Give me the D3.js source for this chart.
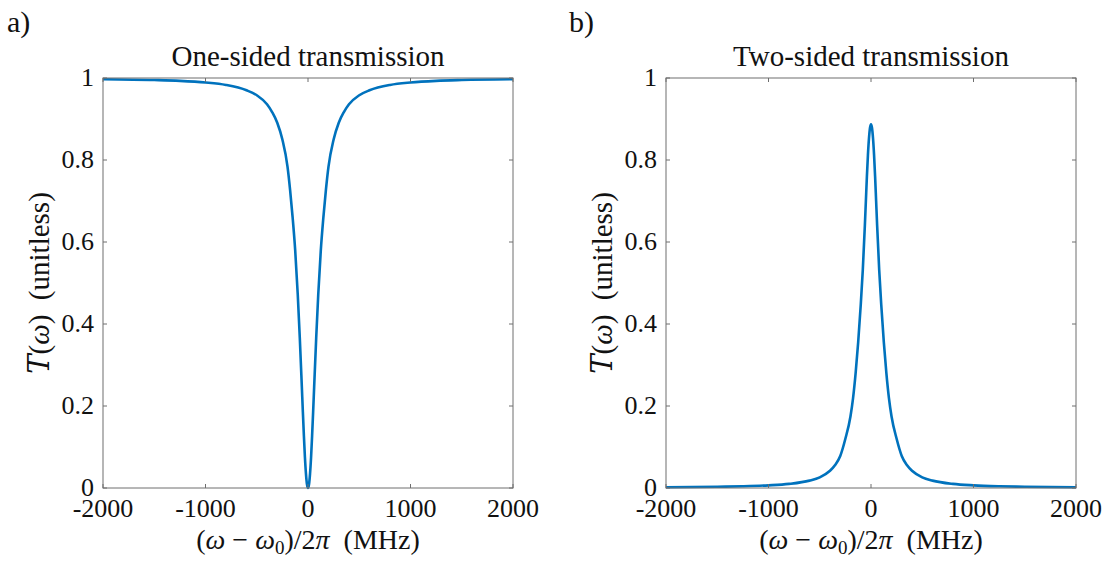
<!DOCTYPE html>
<html>
<head>
<meta charset="utf-8">
<script src="https://cdn.jsdelivr.net/npm/d3@7"></script>
<style>
  body { margin: 0; background: #fff; }
  svg { display: block; }
  text { font-family: "Liberation Serif", "DejaVu Serif", serif; fill: #111; }
</style>
</head>
<body>
<div id="chart"></div>
<script>
// detuning (MHz)
const detuning = [-2000, -1500, -1250, -1000, -800, -600, -500, -400, -350, -300, -250, -200, -175, -150, -125, -100, -80, -60, -50, -40, -30, -20, -10,
  0, 10, 20, 30, 40, 50, 60, 80, 100, 125, 150, 175, 200, 250, 300, 350, 400, 500, 600, 800, 1000, 1250, 1500, 2000]

// a) one-sided transmission
const oneSided = [0.997, 0.995, 0.993, 0.989, 0.983, 0.970, 0.958, 0.936, 0.917, 0.891, 0.850, 0.784, 0.728, 0.660, 0.580, 0.472, 0.366, 0.246, 0.185, 0.127, 0.075, 0.035, 0.009,
  0.0, 0.009, 0.035, 0.075, 0.127, 0.185, 0.246, 0.366, 0.472, 0.580, 0.660, 0.728, 0.784, 0.850, 0.891, 0.917, 0.936, 0.958, 0.970, 0.983, 0.989, 0.993, 0.995, 0.997]

// b) two-sided transmission
const twoSided = [0.0017, 0.0030, 0.0042, 0.0065, 0.010, 0.018, 0.026, 0.042, 0.056, 0.078, 0.120, 0.175, 0.219, 0.280, 0.356, 0.447, 0.532, 0.640, 0.700, 0.760, 0.812, 0.852, 0.878,
  0.887, 0.878, 0.852, 0.812, 0.760, 0.700, 0.640, 0.532, 0.447, 0.356, 0.280, 0.219, 0.175, 0.120, 0.078, 0.056, 0.042, 0.026, 0.018, 0.010, 0.0065, 0.0042, 0.0030, 0.0017]

const xTicks = [-2000, -1000, 0, 1000, 2000]
const yTicks = [0, 0.2, 0.4, 0.6, 0.8, 1]
const yTickLabels = ["0", "0.2", "0.4", "0.6", "0.8", "1"]

const panels = [
  { tag: "a)", title: "One-sided transmission", values: oneSided, left: 103, tagX: 7 },
  { tag: "b)", title: "Two-sided transmission", values: twoSided, left: 666, tagX: 569 },
]

const W = 1102, H = 563
const plotTop = 78, plotW = 410, plotH = 410
const lineColor = "#0072bd"
const axisColor = "#6e6e6e"

const svg = d3.select("#chart").append("svg")
  .attr("width", W)
  .attr("height", H)

panels.forEach(p => {
  const x = d3.scaleLinear().domain([-2000, 2000]).range([0, plotW])
  const y = d3.scaleLinear().domain([0, 1]).range([plotH, 0])

  const g = svg.append("g").attr("transform", `translate(${p.left},${plotTop})`)

  // panel tag
  svg.append("text")
    .attr("x", p.tagX).attr("y", 32)
    .style("font-size", "30px")
    .text(p.tag)

  // title
  g.append("text")
    .attr("x", plotW / 2).attr("y", -12)
    .attr("text-anchor", "middle")
    .style("font-size", "29px")
    .text(p.title)

  // curve
  const line = d3.line()
    .x((d, i) => x(detuning[i]))
    .y(d => y(d))
    .curve(d3.curveMonotoneX)

  g.append("path")
    .datum(p.values)
    .attr("fill", "none")
    .attr("stroke", lineColor)
    .attr("stroke-width", 2.6)
    .attr("stroke-linejoin", "round")
    .attr("d", line)

  // box + inward ticks (matlab style)
  g.append("rect")
    .attr("x", 0).attr("y", 0)
    .attr("width", plotW).attr("height", plotH)
    .attr("fill", "none")
    .attr("stroke", axisColor)
    .attr("stroke-width", 1)

  const tl = 4
  g.append("g").selectAll("line")
    .data(xTicks)
    .join("line")
    .attr("x1", d => x(d)).attr("x2", d => x(d))
    .attr("y1", plotH).attr("y2", plotH - tl)
    .attr("stroke", axisColor)
  g.append("g").selectAll("line")
    .data(xTicks)
    .join("line")
    .attr("x1", d => x(d)).attr("x2", d => x(d))
    .attr("y1", 0).attr("y2", tl)
    .attr("stroke", axisColor)
  g.append("g").selectAll("line")
    .data(yTicks)
    .join("line")
    .attr("x1", 0).attr("x2", tl)
    .attr("y1", d => y(d)).attr("y2", d => y(d))
    .attr("stroke", axisColor)
  g.append("g").selectAll("line")
    .data(yTicks)
    .join("line")
    .attr("x1", plotW).attr("x2", plotW - tl)
    .attr("y1", d => y(d)).attr("y2", d => y(d))
    .attr("stroke", axisColor)

  // tick labels
  g.append("g").selectAll("text")
    .data(xTicks)
    .join("text")
    .attr("x", d => x(d))
    .attr("y", plotH + 29)
    .attr("text-anchor", "middle")
    .style("font-size", "26px")
    .text(d => d)

  g.append("g").selectAll("text")
    .data(yTicks)
    .join("text")
    .attr("x", -9)
    .attr("y", d => y(d) + 8)
    .attr("text-anchor", "end")
    .style("font-size", "26px")
    .text((d, i) => yTickLabels[i])

  // x label: (ω − ω0)/2π (MHz)
  const xl = g.append("text")
    .attr("x", plotW / 2).attr("y", plotH + 61)
    .attr("text-anchor", "middle")
    .style("font-size", "28px")
  xl.append("tspan").text("(")
  xl.append("tspan").style("font-style", "italic").text("ω")
  xl.append("tspan").text(" − ")
  xl.append("tspan").style("font-style", "italic").text("ω")
  xl.append("tspan").attr("dy", 5).style("font-size", "19px").text("0")
  xl.append("tspan").attr("dy", -5).text(")/2")
  xl.append("tspan").style("font-style", "italic").text("π")
  xl.append("tspan").text("\u00a0\u00a0(MHz)")

  // y label: T(ω) (unitless)
  const yl = g.append("text")
    .attr("transform", `translate(-54,${plotH / 2}) rotate(-90)`)
    .attr("text-anchor", "middle")
    .style("font-size", "29px")
  yl.append("tspan").style("font-style", "italic").style("font-family", "DejaVu Serif").text("T")
  yl.append("tspan").text("(")
  yl.append("tspan").style("font-style", "italic").text("ω")
  yl.append("tspan").text(")\u00a0\u00a0(unitless)")
})
</script>
</body>
</html>
